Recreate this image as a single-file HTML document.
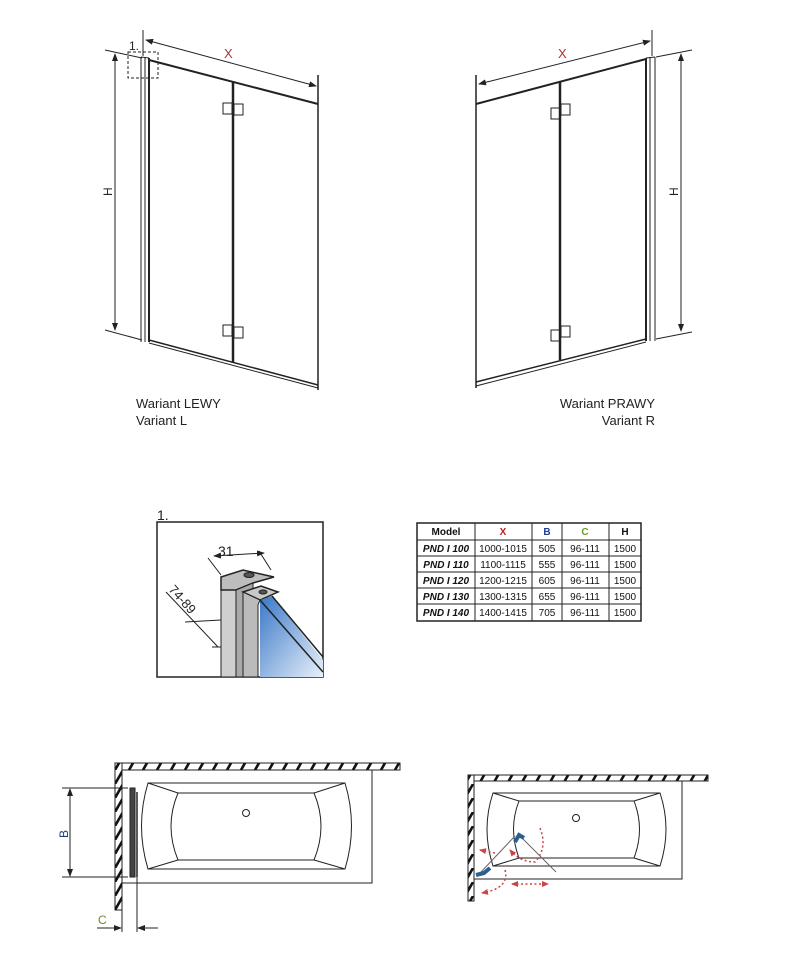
<!DOCTYPE html>
<html><head><meta charset="utf-8"><style>
html,body{margin:0;padding:0;background:#fff;}
svg{display:block;font-family:"Liberation Sans",sans-serif;}
</style></head><body>
<svg width="803" height="973" viewBox="0 0 803 973" xmlns="http://www.w3.org/2000/svg">
<defs>
<marker id="a" markerWidth="8" markerHeight="6" refX="7" refY="3" orient="auto-start-reverse" markerUnits="userSpaceOnUse"><path d="M0,0 L8,3 L0,6 z" fill="#222"/></marker>
<marker id="r" markerWidth="7" markerHeight="6" refX="6" refY="3" orient="auto-start-reverse" markerUnits="userSpaceOnUse"><path d="M0,0 L7,3 L0,6 z" fill="#c44"/></marker>
<pattern id="h" width="14" height="14" patternUnits="userSpaceOnUse"><rect width="14" height="14" fill="#fff"/><path d="M3,14 L11,0" stroke="#111" stroke-width="2.6"/></pattern>
<linearGradient id="g" x1="0" y1="0" x2="1" y2="1"><stop offset="0" stop-color="#3a78c8"/><stop offset="1" stop-color="#e8f0fa"/></linearGradient>
</defs>
<g stroke="#222" fill="none" stroke-width="1">
<!-- TOP LEFT -->
<line x1="141" y1="57" x2="141" y2="342"/><line x1="145" y1="57" x2="145" y2="342"/><line x1="149" y1="58" x2="149" y2="342" stroke-width="2"/>
<line x1="141" y1="57" x2="149" y2="58"/>
<line x1="149" y1="60" x2="318" y2="104" stroke-width="2"/>
<line x1="149" y1="340" x2="318" y2="385" stroke-width="1.5"/><line x1="149" y1="343" x2="318" y2="388"/>
<line x1="233" y1="81" x2="233" y2="362" stroke-width="2.5"/>
<line x1="318" y1="75" x2="318" y2="390" stroke-width="1.5"/>
<rect x="223" y="103" width="9" height="11"/><rect x="234" y="104" width="9" height="11"/>
<rect x="223" y="325" width="9" height="11"/><rect x="234" y="327" width="9" height="11"/>
<rect x="128" y="52" width="30" height="26" stroke-dasharray="3,2"/>
<line x1="143" y1="30" x2="143" y2="56"/>
<line x1="146" y1="40" x2="316" y2="86" marker-start="url(#a)" marker-end="url(#a)"/>
<line x1="105" y1="50" x2="142" y2="58"/><line x1="105" y1="330" x2="142" y2="340"/>
<line x1="115" y1="54" x2="115" y2="330" marker-start="url(#a)" marker-end="url(#a)"/>
<!-- TOP RIGHT -->
<line x1="476" y1="75" x2="476" y2="388" stroke-width="1.5"/>
<line x1="476" y1="104" x2="646" y2="59" stroke-width="2"/>
<line x1="476" y1="382" x2="646" y2="339" stroke-width="1.5"/><line x1="476" y1="386" x2="646" y2="342"/>
<line x1="646" y1="58" x2="646" y2="341" stroke-width="2"/><line x1="650" y1="57" x2="650" y2="341"/><line x1="655" y1="57" x2="655" y2="341"/>
<line x1="646" y1="58" x2="655" y2="57"/>
<line x1="560" y1="82" x2="560" y2="360" stroke-width="2.5"/>
<rect x="551" y="108" width="9" height="11"/><rect x="561" y="104" width="9" height="11"/>
<rect x="551" y="330" width="9" height="11"/><rect x="561" y="326" width="9" height="11"/>
<line x1="652" y1="30" x2="652" y2="56"/>
<line x1="479" y1="84" x2="650" y2="41" marker-start="url(#a)" marker-end="url(#a)"/>
<line x1="656" y1="57" x2="692" y2="50"/><line x1="656" y1="339" x2="692" y2="332"/>
<line x1="681" y1="54" x2="681" y2="331" marker-start="url(#a)" marker-end="url(#a)"/>
<!-- DETAIL -->
<rect x="157" y="522" width="166" height="155" stroke-width="1.5"/>
<path d="M221,590 L221,677 L236,677 L236,590 Z" fill="#cfcfcf"/>
<path d="M221,577 L243,570 L274,577 L253,583 L236,590 L221,590 Z" fill="#bdbdbd" stroke-width="1.5"/>
<path d="M236,590 L253,583 L253,677 L236,677 Z" fill="#a9a9a9"/>
<path d="M243,592 L261,586 L278,592 L260,600 Z" fill="#c9c9c9" stroke-width="1.5"/>
<path d="M243,592 L243,677 L258,677 L258,605 L260,600 Z" fill="#bbb"/>
<path d="M260,600 L272,596 L323,660 L323,677 L260,677 Z" fill="url(#g)" stroke="none"/>
<line x1="260" y1="600" x2="323" y2="672" stroke-width="1.5"/><line x1="272" y1="596" x2="323" y2="657" stroke-width="1.5"/>
<ellipse cx="249" cy="575" rx="5" ry="2.5" fill="#555"/><ellipse cx="263" cy="592" rx="4" ry="2" fill="#555"/>
<line x1="208" y1="558" x2="221" y2="575"/><line x1="259" y1="551" x2="271" y2="570"/>
<line x1="214" y1="556" x2="264" y2="553" marker-start="url(#a)" marker-end="url(#a)"/>
<line x1="185" y1="622" x2="221" y2="620"/><line x1="212" y1="647" x2="221" y2="647"/>
<line x1="166" y1="592" x2="218" y2="647"/>
<!-- TABLE -->
<rect x="417" y="523" width="224" height="98" stroke-width="1.5"/>
<line x1="475" y1="523" x2="475" y2="621"/><line x1="532" y1="523" x2="532" y2="621"/><line x1="562" y1="523" x2="562" y2="621"/><line x1="609" y1="523" x2="609" y2="621"/>
<line x1="417" y1="540" x2="641" y2="540"/><line x1="417" y1="556" x2="641" y2="556"/><line x1="417" y1="572" x2="641" y2="572"/><line x1="417" y1="588" x2="641" y2="588"/><line x1="417" y1="604" x2="641" y2="604"/>
<!-- BOTTOM LEFT -->
<rect x="115" y="763" width="285" height="7" fill="url(#h)"/>
<rect x="115" y="763" width="7" height="147" fill="url(#h)"/>
<rect x="122" y="770" width="250" height="113"/>
<path d="M148,783 L345,783 Q358,826 345,869 L148,869 Q135,826 148,783 Z"/>
<path d="M178,793 L314,793 Q328,826 314,860 L178,860 Q164,826 178,793 Z"/>
<line x1="148" y1="783" x2="178" y2="793"/><line x1="345" y1="783" x2="314" y2="793"/><line x1="148" y1="869" x2="178" y2="860"/><line x1="345" y1="869" x2="314" y2="860"/>
<circle cx="246" cy="813" r="3.5"/>
<rect x="130" y="788" width="5" height="89" fill="#444"/><line x1="137" y1="792" x2="137" y2="877" stroke-width="1.5"/>
<line x1="62" y1="788" x2="128" y2="788"/><line x1="62" y1="877" x2="128" y2="877"/>
<line x1="70" y1="789" x2="70" y2="876" marker-start="url(#a)" marker-end="url(#a)"/>
<line x1="122" y1="883" x2="122" y2="932"/><line x1="137" y1="877" x2="137" y2="932"/>
<line x1="97" y1="928" x2="121" y2="928" marker-end="url(#a)"/><line x1="158" y1="928" x2="138" y2="928" marker-end="url(#a)"/>
<!-- BOTTOM RIGHT -->
<rect x="468" y="775" width="240" height="6" fill="url(#h)"/>
<rect x="468" y="775" width="6" height="126" fill="url(#h)"/>
<rect x="474" y="781" width="208" height="98"/>
<path d="M493,793 L660,793 Q672,829 660,866 L493,866 Q481,829 493,793 Z"/>
<path d="M519,801 L634,801 Q645,829 634,858 L519,858 Q508,829 519,801 Z"/>
<line x1="493" y1="793" x2="519" y2="801"/><line x1="660" y1="793" x2="634" y2="801"/><line x1="493" y1="866" x2="519" y2="858"/><line x1="660" y1="866" x2="634" y2="858"/>
<circle cx="576" cy="818" r="3.5"/>
<line x1="481" y1="872" x2="515" y2="836" stroke="#666"/><line x1="522" y1="838" x2="556" y2="872" stroke="#666"/>
<path d="M476,875 L484,873 L490,868" stroke="#2a5f8f" stroke-width="4"/>
<path d="M515,842 L519,835 L524,838" stroke="#2a5f8f" stroke-width="4"/>
<g stroke="#c44" stroke-width="1.5" stroke-dasharray="2,2.5">
<line x1="495" y1="853" x2="480" y2="850" marker-end="url(#r)"/>
<path d="M505,870 Q510,888 482,893" marker-end="url(#r)"/>
<line x1="512" y1="884" x2="548" y2="884" marker-start="url(#r)" marker-end="url(#r)"/>
<path d="M540,828 Q548,848 535,862 Q520,862 510,850" marker-end="url(#r)"/>
</g>
</g>
<g font-size="12" fill="#222">
<text x="224" y="58" fill="#a33" font-size="13">X</text>
<text x="558" y="58" fill="#a33" font-size="13">X</text>
<text x="129" y="50" font-size="12">1.</text>
<text transform="translate(112,196) rotate(-90)" font-size="12">H</text>
<text transform="translate(678,196) rotate(-90)" font-size="12">H</text>
<text x="136" y="408" font-size="13">Wariant LEWY</text>
<text x="136" y="425" font-size="13">Variant L</text>
<text x="655" y="408" font-size="13" text-anchor="end">Wariant PRAWY</text>
<text x="655" y="425" font-size="13" text-anchor="end">Variant R</text>
<text x="157" y="520" font-size="14">1.</text>
<text x="218" y="556" font-size="14">31</text>
<text transform="translate(168,590) rotate(48)" font-size="13">74-89</text>
<text transform="translate(68,838) rotate(-90)" font-size="12" fill="#1f3c7a">B</text>
<text x="98" y="924" font-size="12" fill="#6a8a2a">C</text>
</g>
<g font-size="10" fill="#111" text-anchor="middle">
<text x="446" y="535" font-weight="bold">Model</text><text x="503" y="535" font-weight="bold" fill="#b22">X</text><text x="547" y="535" font-weight="bold" fill="#1f3c9a">B</text><text x="585" y="535" font-weight="bold" fill="#6a9a2a">C</text><text x="625" y="535" font-weight="bold">H</text>
<g font-style="italic" font-weight="bold"><text x="446" y="552">PND I 100</text><text x="446" y="568">PND I 110</text><text x="446" y="584">PND I 120</text><text x="446" y="600">PND I 130</text><text x="446" y="616">PND I 140</text></g>
<text x="503" y="552">1000-1015</text><text x="503" y="568">1100-1115</text><text x="503" y="584">1200-1215</text><text x="503" y="600">1300-1315</text><text x="503" y="616">1400-1415</text>
<text x="547" y="552">505</text><text x="547" y="568">555</text><text x="547" y="584">605</text><text x="547" y="600">655</text><text x="547" y="616">705</text>
<text x="585" y="552">96-111</text><text x="585" y="568">96-111</text><text x="585" y="584">96-111</text><text x="585" y="600">96-111</text><text x="585" y="616">96-111</text>
<text x="625" y="552">1500</text><text x="625" y="568">1500</text><text x="625" y="584">1500</text><text x="625" y="600">1500</text><text x="625" y="616">1500</text>
</g>
</svg>
</body></html>
